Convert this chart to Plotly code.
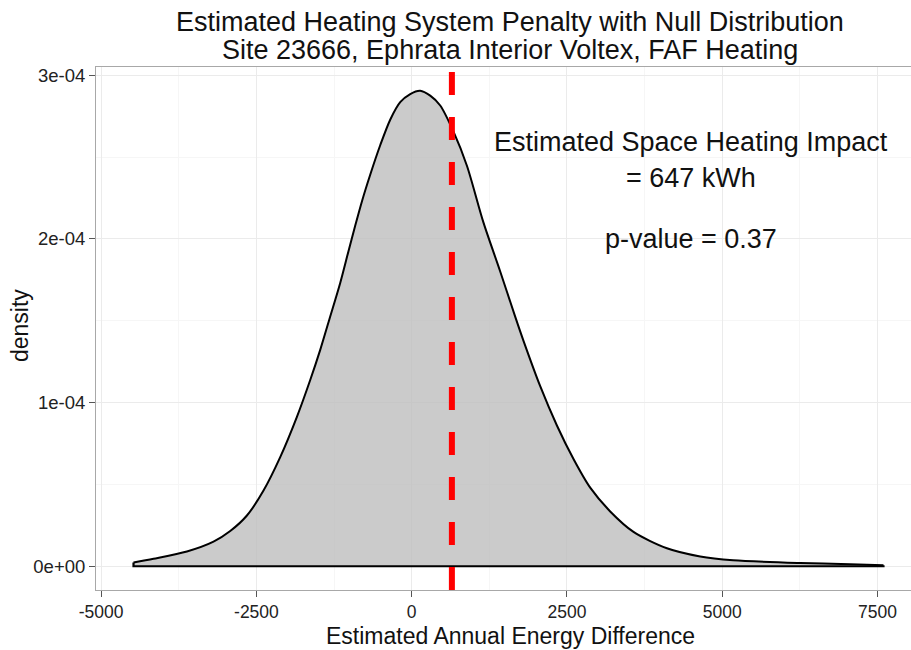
import plotly.graph_objects as go

# Null distribution of the estimated annual energy difference (kWh) and its density
energy_kwh = [-4479, -4157, -3619, -3191, -2922, -2653, -2386, -2117, -1848, -1634,
              -1473, -1312, -1151, -1018, -910, -797, -668, -507, -346, -185,
              -24, 137, 298, 459, 673, 889, 1156, 1425, 1666, 1800,
              2069, 2338, 2605, 2874, 3196, 3571, 4109, 4645, 5176, 6255,
              7060, 7596]
density = [2.3e-6, 4.6e-6, 9.0e-6, 1.50e-5, 2.15e-5, 3.10e-5, 4.63e-5, 6.67e-5, 9.13e-5, 1.138e-4,
           1.322e-4, 1.526e-4, 1.731e-4, 1.925e-4, 2.080e-4, 2.235e-4, 2.392e-4, 2.572e-4, 2.728e-4, 2.835e-4,
           2.885e-4, 2.905e-4, 2.875e-4, 2.815e-4, 2.655e-4, 2.447e-4, 2.099e-4, 1.801e-4, 1.525e-4, 1.377e-4,
           1.100e-4, 8.60e-5, 6.55e-5, 4.80e-5, 3.35e-5, 2.10e-5, 1.10e-5, 6.0e-6, 3.7e-6, 2.0e-6,
           1.3e-6, 6e-7]

observed_impact = 647
p_value = 0.37

x_ticks = [-5000, -2500, 0, 2500, 5000, 7500]
x_tick_labels = ["-5000", "-2500", "0", "2500", "5000", "7500"]
x_minor = [-3750, -1250, 1250, 3750, 6250]
y_ticks = [0, 1e-4, 2e-4, 3e-4]
y_tick_labels = ["0e+00", "1e-04", "2e-04", "3e-04"]
y_minor = [5e-5, 1.5e-4, 2.5e-4]

FONT = "Liberation Sans, Arial, Helvetica, sans-serif"

fig = go.Figure()

# filled density curve
fig.add_trace(go.Scatter(
    x=energy_kwh, y=density, mode="lines",
    line=dict(color="black", width=2, shape="spline", smoothing=0.8),
    fill="tozeroy", fillcolor="rgba(190,190,190,0.8)",
    hoverinfo="skip", showlegend=False,
))
# closing outline of the density polygon along the baseline
fig.add_trace(go.Scatter(
    x=[energy_kwh[0], energy_kwh[0], energy_kwh[-1], energy_kwh[-1]],
    y=[density[0], 0, 0, density[-1]],
    mode="lines", line=dict(color="black", width=2.2),
    hoverinfo="skip", showlegend=False,
))

# observed impact marker
fig.add_shape(type="line", xref="x", yref="paper",
              x0=observed_impact, x1=observed_impact, y0=0, y1=1,
              line=dict(color="#FF0000", width=6, dash="23px,22px"), layer="above")

annotations = [
    dict(text="Estimated Heating System Penalty with Null Distribution",
         xref="paper", yref="paper", x=0.508, y=1.086, font=dict(size=27)),
    dict(text="Site 23666, Ephrata Interior Voltex, FAF Heating",
         xref="paper", yref="paper", x=0.508, y=1.0325, font=dict(size=27)),
    dict(text="Estimated Annual Energy Difference",
         xref="paper", yref="paper", x=0.508, y=-0.088, font=dict(size=23)),
    dict(text="density", textangle=-90,
         xref="paper", yref="paper", x=-0.093, y=0.505, font=dict(size=23)),
    dict(text="Estimated Space Heating Impact", xref="x", yref="y",
         x=4500, y=2.59e-4, font=dict(size=27)),
    dict(text=f"= {observed_impact} kWh", xref="x", yref="y",
         x=4500, y=2.372e-4, font=dict(size=27)),
    dict(text=f"p-value = {p_value}", xref="x", yref="y",
         x=4500, y=2.0e-4, font=dict(size=27)),
]
for a in annotations:
    a.setdefault("showarrow", False)
    a.setdefault("xanchor", "center")
    a.setdefault("yanchor", "middle")
    a["font"] = dict(family=FONT, color="#111111", **a["font"])
fig.update_layout(annotations=annotations)

fig.update_layout(
    width=911, height=650,
    margin=dict(l=96, r=0, t=67, b=60),
    paper_bgcolor="white", plot_bgcolor="white",
    font=dict(family=FONT, color="#222222"),
    xaxis=dict(
        range=[-5083, 8039], tickvals=x_ticks, ticktext=x_tick_labels,
        showgrid=True, gridcolor="#EBEBEB", gridwidth=1,
        minor=dict(tickvals=x_minor, showgrid=True, gridcolor="#F6F6F6", ticks=""),
        zeroline=False, showline=True, linecolor="#A8A8A8", linewidth=1, mirror=True,
        ticks="outside", ticklen=6, tickwidth=1.3, tickcolor="#555555",
        tickfont=dict(size=17.5, color="#222222"), ticklabelstandoff=0,
    ),
    yaxis=dict(
        range=[-1.45e-5, 3.05e-4], tickvals=y_ticks, ticktext=y_tick_labels,
        showgrid=True, gridcolor="#EBEBEB", gridwidth=1,
        minor=dict(tickvals=y_minor, showgrid=True, gridcolor="#F6F6F6", ticks=""),
        zeroline=False, showline=True, linecolor="#A8A8A8", linewidth=1,
        ticks="outside", ticklen=6, tickwidth=1.3, tickcolor="#555555",
        tickfont=dict(size=18.5, color="#222222"),
    ),
)

fig.write_html("out.html")
